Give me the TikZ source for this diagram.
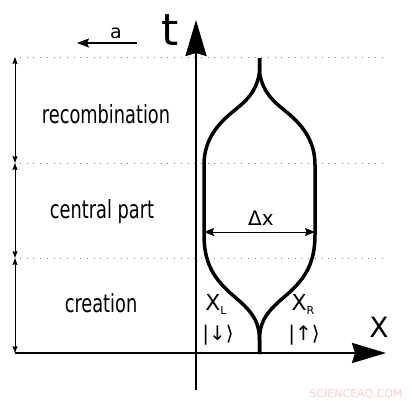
\documentclass[tikz,border=0pt]{standalone}
\usepackage{fontspec}
\setmainfont{DejaVu Sans}
\newfontfamily\condf{DejaVu Sans Condensed}
\usetikzlibrary{arrows.meta}
\newcommand{\narrow}[1]{\scalebox{0.79}[1]{#1}}
\begin{document}
\begin{tikzpicture}[x=1pt,y=-1pt,
  dotline/.style={gray, line width=1pt, dash pattern=on 1pt off 5.7pt},
  axisline/.style={line width=2.4pt},
  bigtip/.style={-{Stealth[length=36pt,width=21pt,inset=3pt]}},
  smalltip/.style={-{Stealth[length=12pt,width=9pt,inset=2pt]}},
  spantip/.style={{Stealth[length=7pt,width=5pt,inset=1pt]}-{Stealth[length=7pt,width=5pt,inset=1pt]}},
  dxtip/.style={{Stealth[length=10pt,width=8pt,inset=1.5pt]}-{Stealth[length=10pt,width=8pt,inset=1.5pt]}},
  phase/.style={font=\condf\fontsize{25}{25}\selectfont, anchor=base, inner sep=0pt},
  lbl/.style={anchor=base, inner sep=0pt},
  curve/.style={line width=3.5pt}
]
\useasboundingbox (0,0) rectangle (412,400);
% dotted level lines
\coordinate (d1a) at (20,57);  \coordinate (d1b) at (383,57);
\coordinate (d2a) at (20,163); \coordinate (d2b) at (383,163);
\coordinate (d3a) at (20,258); \coordinate (d3b) at (383,258);
\draw[dotline] (d1a) -- (d1b);
\draw[dotline] (d2a) -- (d2b);
\draw[dotline] (d3a) -- (d3b);
% axes
\coordinate (tb) at (196,390); \coordinate (tt) at (196,20);
\coordinate (xa) at (15,353); \coordinate (xb) at (386,353);
\draw[axisline,bigtip] (tb) -- (tt);
\draw[axisline,-{Stealth[length=34pt,width=20pt,inset=3pt]}] (xa) -- (xb);
\node[lbl, font=\fontsize{44}{44}\selectfont] (tlab) at (170,45) {t};
\node[lbl, font=\fontsize{28}{28}\selectfont] (xlab) at (379,337) {X};
% a arrow
\coordinate (aa) at (137,43); \coordinate (ab) at (77,43);
\draw[line width=1.4pt, smalltip] (aa) -- (ab);
\node[lbl, font=\fontsize{19}{19}\selectfont] (alab) at (116,38) {a};
% left span arrows
\coordinate (l0) at (15,57); \coordinate (l1) at (15,163);
\coordinate (l2) at (15,258); \coordinate (l3) at (15,353);
\draw[line width=0.9pt, spantip] (l0) -- (l1);
\draw[line width=0.9pt, spantip] (l1) -- (l2);
\draw[line width=0.9pt, spantip] (l2) -- (l3);
% phase labels
\node[phase] (rec) at (106,123.5) {\narrow{recombination}};
\node[phase] (cen) at (102,218.5) {\narrow{central part}};
\node[phase] (cre) at (101,312.5) {\narrow{creation}};
% the wave-packet shape
\foreach \s in {1,-1}{
\begin{scope}[shift={(259.5,0)}, xscale=\s]
\draw[curve] (0,58) -- (0,72) .. controls (-3,95) and (-19,105) .. (-27,112)
  .. controls (-47,128) and (-55.5,145) .. (-55.5,165) -- (-55.5,235)
  .. controls (-55.5,265) and (-44,280) .. (-27,295)
  .. controls (-9,310) and (0,320) .. (0,340) -- (0,354);
\end{scope}}
% delta x
\coordinate (dl) at (204,232); \coordinate (dr) at (315,232);
\draw[line width=1pt, dxtip] (dl) -- (dr);
\node[lbl, font=\fontsize{20}{20}\selectfont] (dxlab) at (261,225) {Δx};
% xL xR and states
\node[lbl, font=\fontsize{22}{22}\selectfont] (xl) at (216,310) {X\raisebox{-4pt}{\fontsize{11}{11}\selectfont L}};
\node[lbl, font=\fontsize{22}{22}\selectfont] (xr) at (303,310) {X\raisebox{-4pt}{\fontsize{11}{11}\selectfont R}};
\node[lbl, font=\fontsize{20}{20}\selectfont] (sl) at (218,340) {|↓⟩};
\node[lbl, font=\fontsize{20}{20}\selectfont] (sr) at (304,340) {|↑⟩};
% watermark
\node[lbl, font=\fontsize{11}{11}\selectfont, text=red!20] (wm) at (356,397) {SCIENCEAQ.COM};
\end{tikzpicture}
\end{document}
